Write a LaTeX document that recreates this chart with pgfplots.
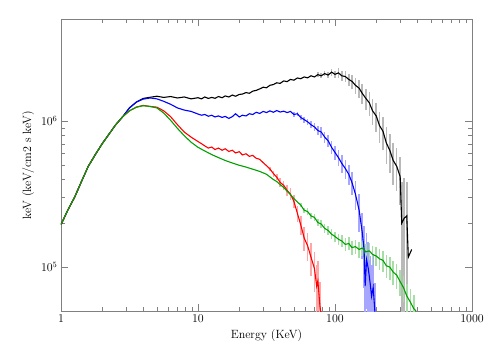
\documentclass[border=0pt]{standalone}
\usepackage{pgfplots}
\usepackage{pgfplotstable}
\pgfplotsset{compat=1.18}

\definecolor{spgreen}{RGB}{0,160,0}

% E [keV], flux, error
\pgfplotstableread{
E F dF
1 1.95e5 0
1.12 2.45e5 0
1.26 3.02e5 0
1.41 3.85e5 0
1.58 4.89e5 0
1.78 5.89e5 0
2.00 7.00e5 0
2.24 8.13e5 0
2.51 9.44e5 0
2.82 1.07e6 0
3.16 1.23e6 0
3.55 1.349e6 0
3.98 1.429e6 0
4.47 1.455e6 0
5.01 1.479e6 0
5.62 1.452e6 0
6.31 1.472e6 0
7.08 1.439e6 0
7.94 1.462e6 0
8.91 1.419e6 0
10.0 1.445e6 0
10.6 1.419e6 0
11.2 1.462e6 0
11.9 1.429e6 0
12.6 1.452e6 0
13.3 1.432e6 0
14.1 1.472e6 0
15.0 1.445e6 0
15.8 1.486e6 0
16.8 1.462e6 0
17.8 1.507e6 0
18.8 1.479e6 0
20.0 1.521e6 0
21.1 1.531e6 0
22.4 1.567e6 0
23.7 1.549e6 0
25.1 1.603e6 0
26.6 1.622e6 0
28.2 1.660e6 0
29.9 1.706e6 0
31.6 1.690e6 0
33.5 1.758e6 0
35.5 1.778e6 0
37.6 1.828e6 0
39.8 1.811e6 0
42.2 1.884e6 0
44.7 1.862e6 0
47.3 1.928e6 0
50.1 1.905e6 0
53.1 1.972e6 0
56.2 1.950e6 0
59.6 2.004e6 0
63.1 1.977e6 0
66.8 2.042e6 0
70.8 2.004e6 0
75.0 2.080e6 8e4
79.4 2.042e6 8e4
84.1 2.113e6 9e4
89.1 2.065e6 9e4
94.4 2.163e6 1.2e5
100 2.089e6 1.3e5
106 2.138e6 1.6e5
112 2.042e6 1.6e5
119 2.018e6 1.8e5
126 1.928e6 1.8e5
133 1.871e6 2e5
141 1.758e6 2.2e5
150 1.679e6 2.4e5
158 1.549e6 2.4e5
168 1.429e6 2.4e5
178 1.334e6 2.5e5
188 1.175e6 2.4e5
200 1.084e6 2.4e5
211 9.33e5 2.2e5
224 8.51e5 2.2e5
237 7.08e5 2e5
251 6.31e5 1.9e5
266 5.37e5 1.7e5
282 4.90e5 1.6e5
299 4.17e5 1.5e5
307 2.00e5 1.8e5
320 2.16e5 1.9e5
334 2.24e5 1.6e5
343 1.17e5 0
363 1.32e5 0
}\blk

\pgfplotstableread{
E F dF
1 1.95e5 0
1.12 2.45e5 0
1.26 3.02e5 0
1.41 3.85e5 0
1.58 4.89e5 0
1.78 5.89e5 0
2.00 7.00e5 0
2.24 8.13e5 0
2.51 9.44e5 0
2.82 1.07e6 0
3.16 1.23e6 0
3.55 1.349e6 0
3.98 1.413e6 0
4.47 1.439e6 0
5.01 1.419e6 0
5.62 1.365e6 0
6.31 1.303e6 0
7.08 1.23e6 0
7.94 1.189e6 0
8.91 1.164e6 0
10.0 1.117e6 0
10.6 1.096e6 0
11.2 1.109e6 0
11.9 1.079e6 0
12.6 1.096e6 0
13.3 1.067e6 0
14.1 1.084e6 0
15.0 1.059e6 0
15.8 1.076e6 0
16.8 1.042e6 0
17.8 1.072e6 0
18.8 1.122e6 0
20.0 1.067e6 0
21.1 1.096e6 0
22.4 1.084e6 0
23.7 1.122e6 0
25.1 1.109e6 0
26.6 1.148e6 0
28.2 1.127e6 0
29.9 1.164e6 0
31.6 1.143e6 0
33.5 1.175e6 0
35.5 1.148e6 0
37.6 1.180e6 0
39.8 1.153e6 0
42.2 1.169e6 0
44.7 1.143e6 0
47.3 1.164e6 0
50.1 1.109e6 4e4
53.1 1.122e6 4e4
56.2 1.059e6 4e4
59.6 1.023e6 5e4
63.1 9.89e5 5e4
66.8 9.44e5 5e4
70.8 9.12e5 6e4
75.0 8.61e5 6e4
79.4 8.41e5 7e4
84.1 7.76e5 7e4
89.1 7.33e5 7e4
94.4 6.61e5 7e4
100 6.10e5 7e4
106 5.62e5 7e4
112 5.13e5 7e4
119 4.73e5 7e4
126 4.32e5 7e4
133 3.80e5 7e4
141 3.16e5 7e4
150 2.45e5 7e4
158 1.74e5 6e4
163 1.32e5 6e4
166 7.41e4 5e4
170 1.12e5 6e4
175 9.77e4 5e4
180 7.94e4 4e4
185 6.31e4 4e4
190 7.24e4 5e4
196 4.79e4 3e4
}\blu

\pgfplotstableread{
E F dF
1 1.95e5 0
1.12 2.45e5 0
1.26 3.02e5 0
1.41 3.85e5 0
1.58 4.89e5 0
1.78 5.89e5 0
2.00 7.00e5 0
2.24 8.13e5 0
2.51 9.44e5 0
2.82 1.07e6 0
3.16 1.175e6 0
3.55 1.245e6 0
3.98 1.279e6 0
4.47 1.259e6 0
5.01 1.245e6 0
5.62 1.175e6 0
6.31 1.072e6 0
7.08 9.44e5 0
7.94 8.41e5 0
8.91 7.76e5 0
10.0 7.24e5 0
10.6 7.00e5 0
11.2 6.76e5 0
11.9 6.53e5 0
12.6 6.64e5 0
13.3 6.38e5 0
14.1 6.53e5 0
15.0 6.31e5 0
15.8 6.46e5 0
16.8 6.19e5 0
17.8 6.31e5 0
18.8 6.05e5 0
20.0 6.17e5 0
21.1 5.86e5 0
22.4 5.97e5 0
23.7 5.73e5 0
25.1 5.82e5 0
26.6 5.56e5 0
28.2 5.47e5 0
29.9 5.19e5 0
31.6 4.95e5 0
33.5 4.70e5 1.5e4
35.5 4.37e5 2e4
37.6 4.12e5 2e4
39.8 3.80e5 2.5e4
42.2 3.63e5 2.5e4
44.7 3.35e5 3e4
47.3 3.16e5 3e4
50.1 2.82e5 3e4
53.1 2.34e5 3e4
56.2 1.95e5 3e4
59.6 1.58e5 3e4
63.1 1.40e5 3e4
66.8 1.17e5 3e4
70.8 9.77e4 3e4
73.5 7.41e4 3e4
75.0 8.04e4 3e4
77.7 5.37e4 2.5e4
80.0 4.47e4 0
}\rd

\pgfplotstableread{
E F dF
1 1.95e5 0
1.12 2.45e5 0
1.26 3.02e5 0
1.41 3.85e5 0
1.58 4.89e5 0
1.78 5.89e5 0
2.00 7.00e5 0
2.24 8.13e5 0
2.51 9.44e5 0
2.82 1.07e6 0
3.16 1.175e6 0
3.55 1.245e6 0
3.98 1.274e6 0
4.47 1.259e6 0
5.01 1.23e6 0
5.62 1.135e6 0
6.31 1.012e6 0
7.08 8.91e5 0
7.94 7.94e5 0
8.91 7.16e5 0
10.0 6.61e5 0
11.2 6.24e5 0
12.6 5.89e5 0
14.1 5.62e5 0
15.8 5.37e5 0
17.8 5.16e5 0
20.0 4.98e5 0
22.4 4.84e5 0
25.1 4.68e5 0
28.2 4.52e5 0
31.6 4.32e5 0
35.5 3.98e5 0
37.6 3.85e5 0
39.8 3.67e5 0
42.2 3.51e5 0
44.7 3.31e5 0
47.3 3.13e5 0
50.1 2.95e5 0
53.1 2.79e5 0
56.2 2.66e5 1e4
59.6 2.45e5 1e4
63.1 2.40e5 1.2e4
66.8 2.24e5 1.2e4
70.8 2.19e5 1.2e4
75.0 2.02e5 1.2e4
79.4 1.97e5 1.2e4
84.1 1.84e5 1.2e4
89.1 1.78e5 1.2e4
94.4 1.68e5 1.3e4
100 1.62e5 1.3e4
106 1.55e5 1.4e4
112 1.51e5 1.4e4
119 1.43e5 1.5e4
126 1.45e5 1.5e4
133 1.36e5 1.5e4
141 1.38e5 1.5e4
150 1.32e5 1.6e4
158 1.35e5 1.6e4
168 1.27e5 1.6e4
178 1.29e5 1.8e4
188 1.22e5 1.8e4
200 1.19e5 1.8e4
211 1.14e5 1.8e4
224 1.11e5 1.8e4
237 1.02e5 1.8e4
251 1.00e5 1.8e4
266 9.23e4 1.7e4
282 8.81e4 1.7e4
299 7.94e4 1.6e4
316 7.24e4 1.5e4
335 6.31e4 1.4e4
355 5.75e4 1.3e4
376 5.19e4 1.2e4
390 5.01e4 0
}\grn

\begin{document}
\begin{tikzpicture}
\begin{axis}[
  scale only axis, width=411bp, height=292bp,
  xmode=log, ymode=log,
  xmin=1, xmax=1000, ymin=5e4, ymax=5e6,
  xtick={1,10,100,1000}, xticklabels={1,10,100,1000},
  ytick={1e5,1e6}, yticklabels={$10^5$,$10^6$},
  axis line style={gray}, tick style={gray},
  tick align=inside,
  major tick length=7bp, minor tick length=4bp,
  xlabel={Energy (KeV)}, ylabel={keV (keV/cm2 s keV)},
  tick label style={font=\large}, label style={font=\large},
  every axis plot/.append style={line width=1.1pt},
  errbar/.style={draw=none, mark=none, forget plot,
    error bars/.cd, y dir=both, y explicit, error mark=none,
    error bar style={draw=#1, line width=1.6pt}},
]
% error bars under the lines
\addplot[errbar=gray!55] table[x=E, y=F, y error=dF] {\blk};
\addplot[errbar=blue!35] table[x=E, y=F, y error=dF] {\blu};
\addplot[errbar=red!35] table[x=E, y=F, y error=dF] {\rd};
\addplot[errbar=spgreen!35] table[x=E, y=F, y error=dF] {\grn};

\addplot[black, mark=none] table[x=E, y=F] {\blk};
\addplot[blue, mark=none] table[x=E, y=F] {\blu};
\addplot[red, mark=none] table[x=E, y=F] {\rd};
\addplot[spgreen, mark=none] table[x=E, y=F] {\grn};

\coordinate (bl) at (rel axis cs:-0.1484,-0.1336);
\coordinate (tr) at (rel axis cs:1.0438,1.0651);
\end{axis}
\path (bl) rectangle (tr);
\end{tikzpicture}
\end{document}
